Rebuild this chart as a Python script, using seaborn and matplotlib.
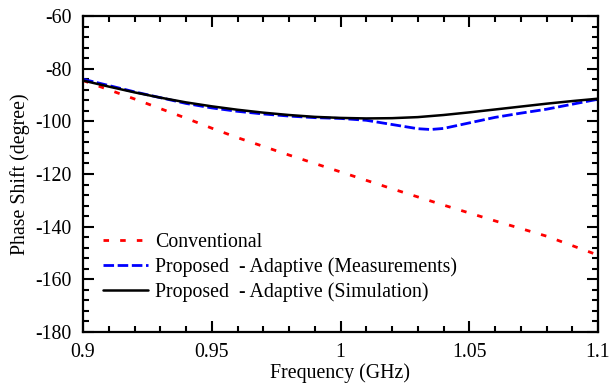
import numpy as np
import pandas as pd
import matplotlib
matplotlib.use("Agg")
import matplotlib.pyplot as plt
import seaborn as sns

# Data
freq_conv = [0.90, 0.92, 0.94, 0.95, 0.96, 0.98, 1.00, 1.02, 1.04, 1.06, 1.08, 1.10]
phase_conv = [-84.5, -91.5, -98.8, -102.6, -106.2, -112.8, -119.2, -125.6, -131.8, -137.8, -143.6, -150.8]

freq_meas = [0.90, 0.91, 0.92, 0.93, 0.94, 0.95, 0.96, 0.97, 0.98, 0.99, 1.00, 1.01,
             1.02, 1.03, 1.035, 1.04, 1.05, 1.06, 1.07, 1.08, 1.09, 1.10]
phase_meas = [-84.0, -86.4, -88.8, -91.0, -93.2, -94.9, -96.2, -97.2, -98.0, -98.6, -98.9, -99.6,
              -101.2, -102.8, -103.1, -102.7, -100.6, -98.5, -96.9, -95.4, -93.5, -91.6]

freq_sim = [0.90, 0.91, 0.92, 0.93, 0.94, 0.95, 0.96, 0.97, 0.98, 0.99, 1.00, 1.01,
            1.02, 1.03, 1.04, 1.05, 1.06, 1.07, 1.08, 1.09, 1.10]
phase_sim = [-84.5, -86.8, -89.0, -91.0, -92.8, -94.3, -95.6, -96.7, -97.6, -98.3, -98.7, -98.9,
             -98.8, -98.4, -97.6, -96.6, -95.5, -94.4, -93.3, -92.3, -91.4]

labels = ["Conventional", "Proposed  - Adaptive (Measurements)", "Proposed  - Adaptive (Simulation)"]
xticks = [0.9, 0.95, 1.0, 1.05, 1.1]
xticklabels = ["0.9", "0.95", "1", "1.05", "1.1"]
yticks = [-180, -160, -140, -120, -100, -80, -60]

sns.set_style("ticks")
plt.rcParams['font.family'] = ['Liberation Serif', 'DejaVu Serif']
plt.rcParams['axes.unicode_minus'] = False
plt.rcParams['text.color'] = 'black'
plt.rcParams['axes.labelcolor'] = 'black'
plt.rcParams['xtick.color'] = 'black'
plt.rcParams['ytick.color'] = 'black'
plt.rcParams['axes.edgecolor'] = 'black'

fig = plt.figure(figsize=(6.09, 3.87), dpi=100)
ax = fig.add_axes([83/609, 1-332/387, (598-83)/609, (332-16)/387])

df_c = pd.DataFrame({"f": freq_conv, "p": phase_conv})
df_m = pd.DataFrame({"f": freq_meas, "p": phase_meas})
df_s = pd.DataFrame({"f": freq_sim, "p": phase_sim})

sns.lineplot(data=df_c, x="f", y="p", ax=ax, color="#ff0000", lw=2.0, label=labels[0])
sns.lineplot(data=df_m, x="f", y="p", ax=ax, color="#0000ff", lw=2.0, label=labels[1])
sns.lineplot(data=df_s, x="f", y="p", ax=ax, color="black", lw=1.8, label=labels[2])

lines = ax.get_lines()
lines[0].set_dashes([2.0, 4.0])
lines[1].set_dashes([3.8, 1.3])

ax.set_xlim(0.9, 1.1)
ax.set_ylim(-180, -60)
ax.set_xticks(xticks)
ax.set_xticklabels(xticklabels)
ax.set_yticks(yticks)
ax.set_xticks(np.arange(0.9, 1.1001, 0.01), minor=True)
ax.set_yticks(np.arange(-180, -59, 4), minor=True)

ax.tick_params(which="both", direction="in", top=True, right=True, labelsize=14.3, width=1.5, pad=8,
               color="black", labelcolor="black")
ax.tick_params(which="major", length=8)
ax.tick_params(which="minor", length=4)
for s in ax.spines.values():
    s.set_visible(True)
    s.set_linewidth(1.6)
    s.set_color("black")

ax.set_xlabel("Frequency (GHz)", fontsize=14.3, labelpad=1, color="black")
ax.set_ylabel("Phase Shift (degree)", fontsize=14.3, labelpad=4, color="black")

leg = ax.legend(loc="upper left", bbox_to_anchor=(20/515, 0.314), frameon=False,
                fontsize=14.3, handlelength=2.25, handletextpad=0.35,
                labelspacing=0.26, borderpad=0, borderaxespad=0)

fig.savefig("out.png", dpi=100)
